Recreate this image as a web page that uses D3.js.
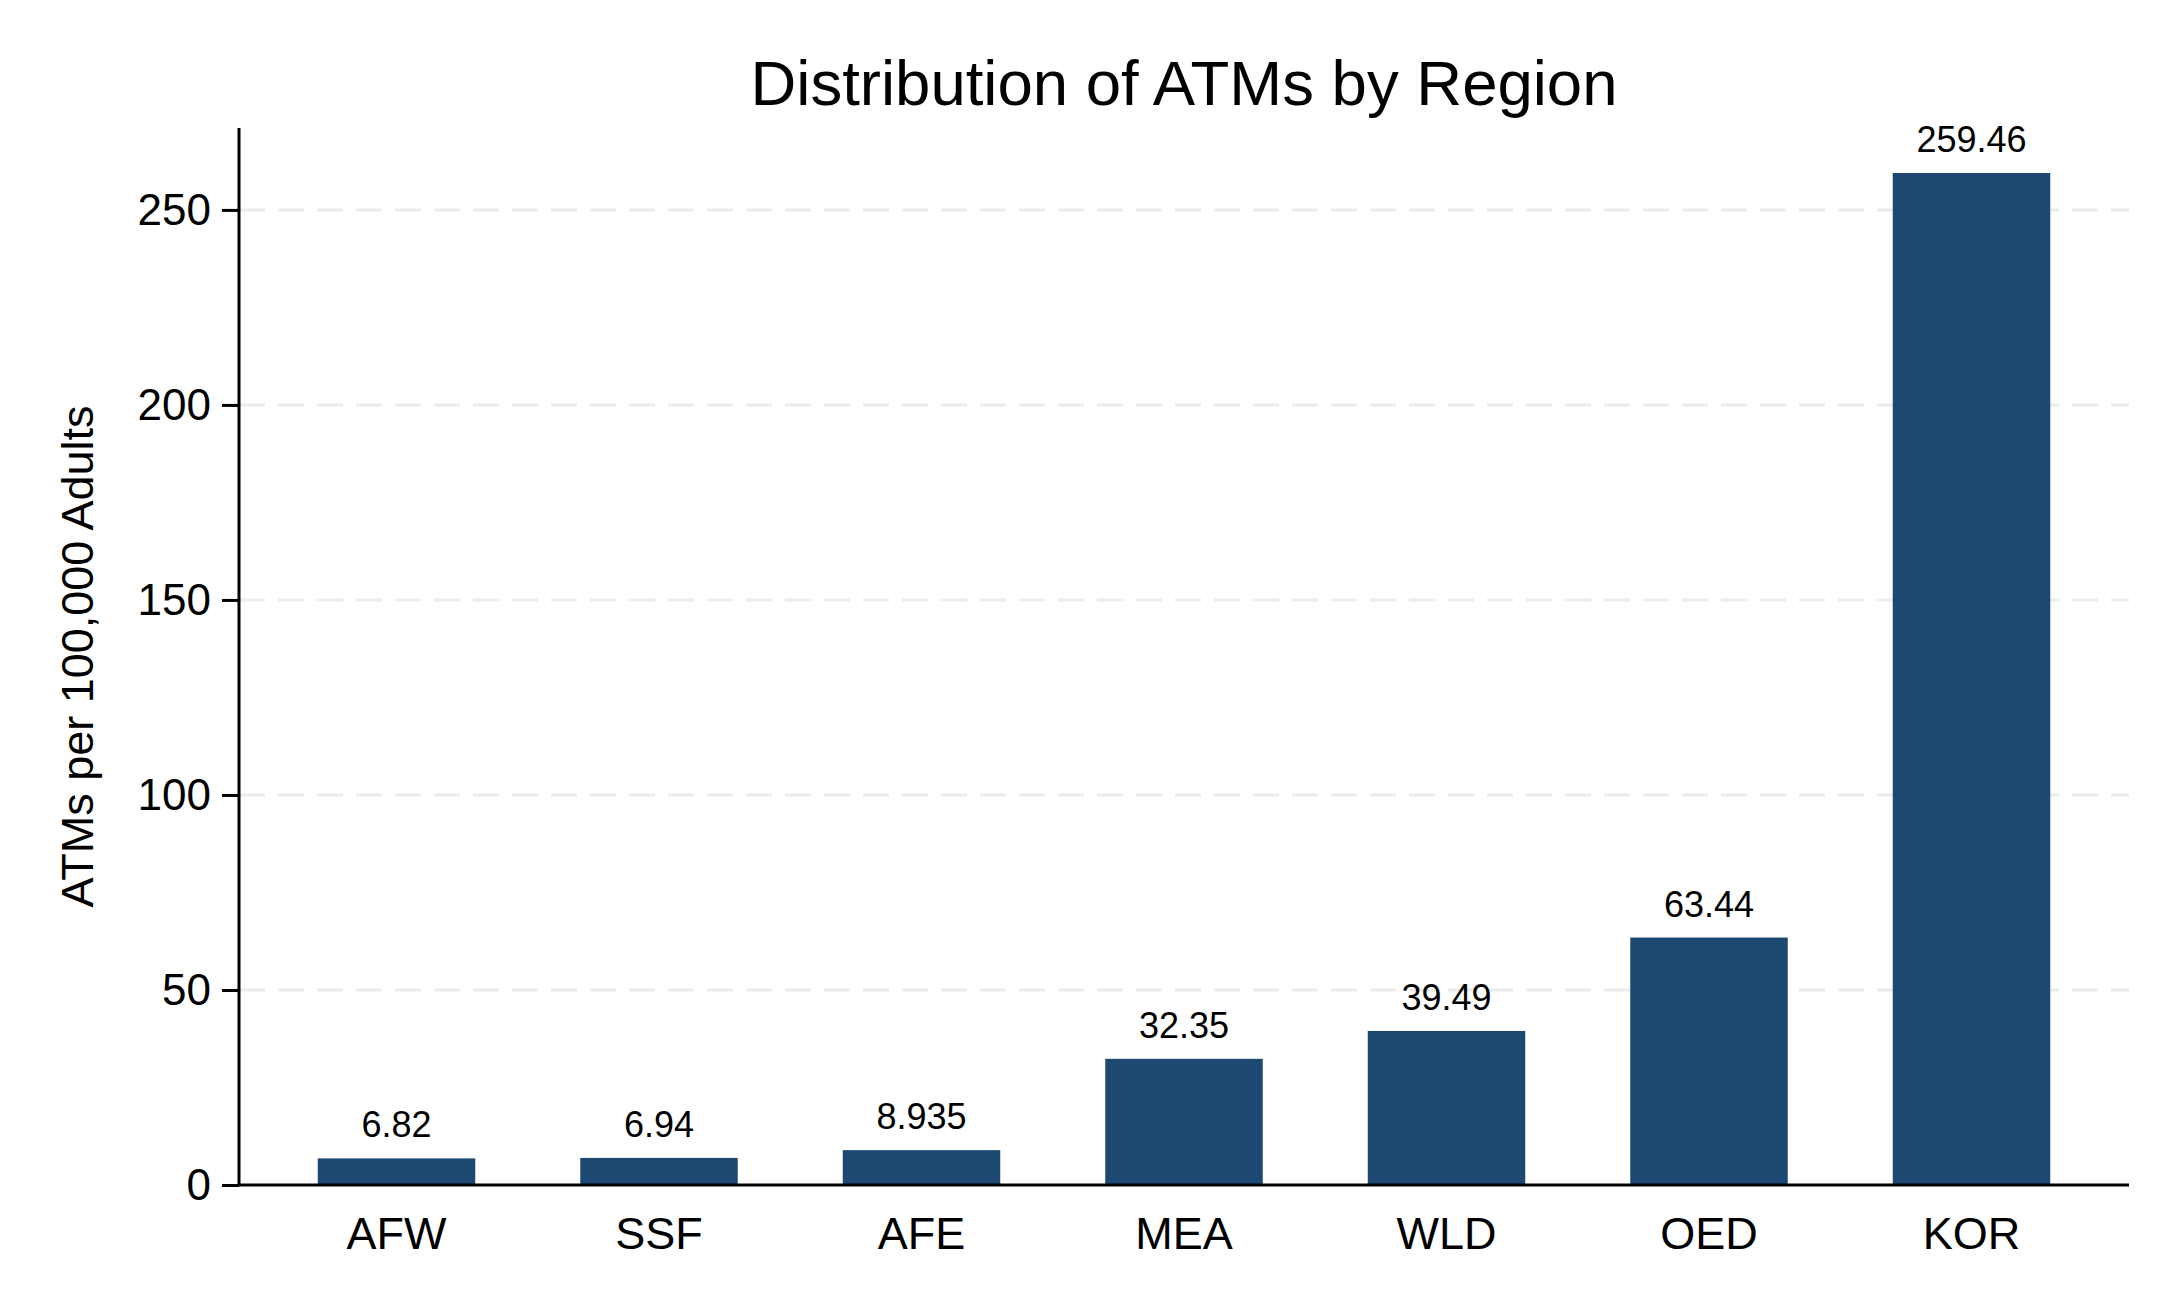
<!DOCTYPE html>
<html><head><meta charset="utf-8">
<script src="https://cdn.jsdelivr.net/npm/d3@7"></script>
<style>
html,body{margin:0;padding:0;background:#fff;}
text{font-family:"Liberation Sans",Arial,Helvetica,sans-serif;}
</style></head>
<body>
<svg id="chart" width="2178" height="1306"></svg>
<script>
const categories = ["AFW","SSF","AFE","MEA","WLD","OED","KOR"];
const values = [6.82, 6.94, 8.935, 32.35, 39.49, 63.44, 259.46];
const valueLabels = ["6.82","6.94","8.935","32.35","39.49","63.44","259.46"];
const yTicks = [0,50,100,150,200,250];
const title = "Distribution of ATMs by Region";
const yLabel = "ATMs per 100,000 Adults";

const svg = d3.select("#chart");
const m = {left:239, right:2129, top:128, bottom:1185};

const x = d3.scaleBand().domain(categories).range([m.left, m.right])
  .paddingInner(0.4).paddingOuter(0.3);
const y = d3.scaleLinear().domain([0, 271]).range([m.bottom, m.top]);

// grid
svg.append("g").selectAll("line").data(yTicks.filter(d=>d>0)).join("line")
  .attr("x1", m.left).attr("x2", m.right)
  .attr("y1", d=>y(d)).attr("y2", d=>y(d))
  .attr("stroke","#ebebeb").attr("stroke-width",3).attr("stroke-dasharray","26,13");

// bars
svg.append("g").selectAll("rect").data(values).join("rect")
  .attr("x",(d,i)=>x(categories[i]))
  .attr("width", x.bandwidth())
  .attr("y", d=>y(d))
  .attr("height", d=>y(0)-y(d))
  .attr("fill","#1d4871");

// value labels
svg.append("g").selectAll("text").data(values).join("text")
  .attr("x",(d,i)=>x(categories[i])+x.bandwidth()/2)
  .attr("y", d=>y(d)-21)
  .attr("text-anchor","middle")
  .attr("font-size",36).attr("fill","#000")
  .text((d,i)=>valueLabels[i]);

// y axis
const yAxis = d3.axisLeft(y).tickValues(yTicks).tickSize(17).tickPadding(11).tickFormat(d3.format("d"));
const gy = svg.append("g").attr("transform",`translate(${m.left},0)`).call(yAxis);
gy.select(".domain").attr("stroke","#000").attr("stroke-width",3).attr("d",`M0,${m.top}V${m.bottom}`);
gy.selectAll(".tick line").attr("stroke","#000").attr("stroke-width",3);
gy.selectAll(".tick text").attr("font-size",44).attr("fill","#000").attr("font-family","Liberation Sans, Arial, sans-serif");

// x axis
const xAxis = d3.axisBottom(x).tickSize(0).tickPadding(32);
const gx = svg.append("g").attr("transform",`translate(0,${m.bottom})`).call(xAxis);
gx.select(".domain").attr("stroke","#000").attr("stroke-width",3).attr("d",`M${m.left},0H${m.right}`);
gx.selectAll(".tick text").attr("font-size",45).attr("fill","#000").attr("font-family","Liberation Sans, Arial, sans-serif");

// title
svg.append("text").attr("x",(m.left+m.right)/2).attr("y",105)
  .attr("text-anchor","middle").attr("font-size",63.5).attr("fill","#000").text(title);

// y label
svg.append("text").attr("transform",`translate(93,${(m.top+m.bottom)/2}) rotate(-90)`)
  .attr("text-anchor","middle").attr("font-size",45).attr("fill","#000").text(yLabel);
</script>
</body></html>
